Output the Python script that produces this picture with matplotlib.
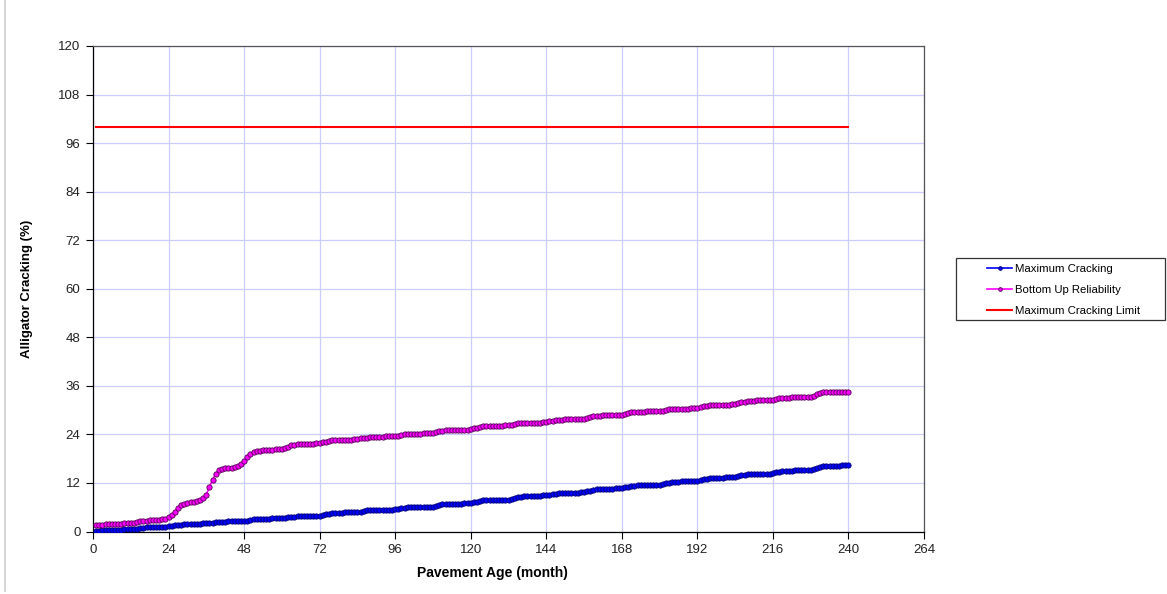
"""
Alligator cracking vs pavement age (MEPDG style output chart)
"""

import matplotlib
matplotlib.use("Agg")
import matplotlib.pyplot as plt
from matplotlib.lines import Line2D
from matplotlib.patches import Rectangle

plt.rcParams['font.family'] = ['Liberation Sans', 'DejaVu Sans']

# monthly values, one row per year (months 1..240)
max_cracking = [
    0.2, 0.2, 0.3, 0.3, 0.3, 0.4, 0.4, 0.4, 0.4, 0.5, 0.5, 0.5,
    0.6, 0.7, 0.8, 0.9, 1.0, 1.1, 1.1, 1.1, 1.2, 1.2, 1.2, 1.3,
    1.4, 1.5, 1.6, 1.7, 1.8, 1.8, 1.8, 1.9, 1.9, 1.9, 2.0, 2.0,
    2.1, 2.2, 2.3, 2.4, 2.4, 2.4, 2.5, 2.5, 2.5, 2.5, 2.6, 2.6,
    2.7, 2.9, 3.0, 3.1, 3.2, 3.2, 3.2, 3.2, 3.3, 3.3, 3.3, 3.3,
    3.4, 3.5, 3.6, 3.7, 3.8, 3.8, 3.8, 3.9, 3.9, 3.9, 3.9, 3.9,
    4.1, 4.3, 4.4, 4.5, 4.6, 4.6, 4.6, 4.7, 4.7, 4.7, 4.7, 4.8,
    4.9, 5.1, 5.2, 5.3, 5.3, 5.3, 5.4, 5.4, 5.4, 5.4, 5.4, 5.5,
    5.6, 5.8, 5.9, 6.0, 6.0, 6.0, 6.0, 6.0, 6.1, 6.1, 6.1, 6.1,
    6.3, 6.5, 6.7, 6.8, 6.8, 6.9, 6.9, 6.9, 6.9, 7.0, 7.0, 7.0,
    7.2, 7.4, 7.6, 7.7, 7.8, 7.8, 7.8, 7.8, 7.9, 7.9, 7.9, 7.9,
    8.1, 8.3, 8.5, 8.6, 8.7, 8.7, 8.8, 8.8, 8.8, 8.8, 8.9, 8.9,
    9.1, 9.2, 9.3, 9.4, 9.5, 9.5, 9.6, 9.6, 9.6, 9.6, 9.7, 9.7,
    9.9, 10.1, 10.3, 10.4, 10.5, 10.5, 10.6, 10.6, 10.6, 10.7, 10.7, 10.7,
    10.9, 11.1, 11.2, 11.3, 11.4, 11.4, 11.5, 11.5, 11.5, 11.6, 11.6, 11.6,
    11.8, 12.0, 12.1, 12.2, 12.3, 12.3, 12.4, 12.4, 12.5, 12.5, 12.5, 12.6,
    12.8, 12.9, 13.0, 13.1, 13.2, 13.2, 13.3, 13.3, 13.4, 13.4, 13.5, 13.5,
    13.7, 13.9, 14.0, 14.1, 14.2, 14.2, 14.2, 14.3, 14.3, 14.3, 14.3, 14.4,
    14.6, 14.8, 14.9, 15.0, 15.0, 15.0, 15.1, 15.1, 15.1, 15.1, 15.2, 15.2,
    15.5, 15.8, 16.0, 16.1, 16.2, 16.2, 16.3, 16.3, 16.3, 16.4, 16.4, 16.5,
]

bottom_up_reliability = [
    1.6, 1.7, 1.7, 1.8, 1.8, 1.9, 1.9, 1.9, 1.9, 2.0, 2.0, 2.0,
    2.1, 2.3, 2.5, 2.6, 2.7, 2.8, 2.8, 2.9, 2.9, 3.0, 3.2, 3.5,
    4.0, 4.9, 5.8, 6.5, 6.9, 7.1, 7.2, 7.4, 7.6, 7.9, 8.4, 9.1,
    11.0, 12.8, 14.3, 15.1, 15.4, 15.6, 15.7, 15.8, 16.0, 16.2, 16.7, 17.4,
    18.4, 19.2, 19.7, 19.9, 20.0, 20.1, 20.1, 20.2, 20.2, 20.3, 20.3, 20.4,
    20.7, 21.0, 21.3, 21.5, 21.6, 21.6, 21.7, 21.7, 21.7, 21.7, 21.8, 21.8,
    22.0, 22.2, 22.4, 22.5, 22.6, 22.6, 22.6, 22.7, 22.7, 22.7, 22.8, 22.8,
    23.0, 23.1, 23.2, 23.3, 23.4, 23.4, 23.4, 23.4, 23.5, 23.5, 23.5, 23.5,
    23.7, 23.9, 24.0, 24.1, 24.1, 24.2, 24.2, 24.2, 24.3, 24.3, 24.3, 24.4,
    24.6, 24.8, 24.9, 25.0, 25.1, 25.1, 25.1, 25.2, 25.2, 25.2, 25.2, 25.3,
    25.5, 25.7, 25.9, 26.0, 26.0, 26.0, 26.1, 26.1, 26.1, 26.1, 26.2, 26.2,
    26.4, 26.6, 26.7, 26.8, 26.8, 26.8, 26.9, 26.9, 26.9, 26.9, 27.0, 27.0,
    27.2, 27.4, 27.5, 27.6, 27.6, 27.7, 27.7, 27.7, 27.7, 27.8, 27.8, 27.8,
    28.1, 28.3, 28.5, 28.6, 28.6, 28.7, 28.7, 28.7, 28.8, 28.8, 28.8, 28.8,
    29.1, 29.3, 29.5, 29.6, 29.6, 29.6, 29.6, 29.7, 29.7, 29.7, 29.7, 29.7,
    29.9, 30.1, 30.2, 30.3, 30.3, 30.4, 30.4, 30.4, 30.4, 30.5, 30.5, 30.5,
    30.8, 31.0, 31.1, 31.2, 31.2, 31.3, 31.3, 31.3, 31.3, 31.3, 31.4, 31.4,
    31.7, 31.9, 32.1, 32.2, 32.3, 32.3, 32.4, 32.4, 32.4, 32.5, 32.5, 32.5,
    32.7, 32.9, 33.0, 33.1, 33.1, 33.2, 33.2, 33.2, 33.3, 33.3, 33.3, 33.3,
    33.6, 34.0, 34.3, 34.4, 34.4, 34.5, 34.5, 34.5, 34.6, 34.6, 34.6, 34.6,
]

months = list(range(1, len(max_cracking) + 1))

limit_months = [1, 240]
limit_values = [100, 100]

x_ticks = list(range(0, 265, 24))
y_ticks = list(range(0, 121, 12))

grid_color = '#CCCCFF'
W, H = 1167, 594

fig = plt.figure(figsize=(W / 100, H / 100), dpi=100)
ax = fig.add_axes([93 / W, 1 - 531.5 / H, (924 - 93) / W, (531.5 - 46) / H])

ax.plot(months, max_cracking, color='#0000FF', linewidth=1.2,
        marker='o', markersize=3.8, markerfacecolor='#0000FF',
        markeredgecolor='#000070', markeredgewidth=0.6,
        label='Maximum Cracking', zorder=3)
ax.plot(months, bottom_up_reliability, color='#FF00FF', linewidth=1.2,
        marker='o', markersize=3.8, markerfacecolor='#FF00FF',
        markeredgecolor='#500050', markeredgewidth=0.6,
        label='Bottom Up Reliability', zorder=3)
ax.plot(limit_months, limit_values, color='#FF0000', linewidth=1.5,
        label='Maximum Cracking Limit', zorder=3)

ax.set_xlim(0, 264)
ax.set_ylim(0, 120)
ax.set_xticks(x_ticks)
ax.set_yticks(y_ticks)
ax.grid(True, color=grid_color, linewidth=0.9)
ax.set_axisbelow(True)

for side in ['top', 'right']:
    ax.spines[side].set_color('#555555')
    ax.spines[side].set_linewidth(0.9)
for side in ['left', 'bottom']:
    ax.spines[side].set_color('black')
    ax.spines[side].set_linewidth(0.9)

ax.tick_params(axis='both', direction='out', length=5, width=0.8,
               labelsize=9.5, colors='black', labelcolor='#222222', pad=4)

ax.set_xlabel('Pavement Age (month)', fontsize=10, fontweight='bold')
ax.xaxis.set_label_coords((492 - 93) / 831, -0.072)
ax.set_ylabel('Alligator Cracking (%)', fontsize=9.5, fontweight='bold', labelpad=18)

# legend entries without a frame, the box is drawn separately
handles, labels = ax.get_legend_handles_labels()
leg = fig.legend(handles, labels, loc='upper left',
                 bbox_to_anchor=(987 / W, 1 - 264 / H),
                 fontsize=8.2, frameon=False, handlelength=2.2,
                 borderpad=0, borderaxespad=0, labelspacing=0.96,
                 handletextpad=0.25, markerscale=0.7)
fig.add_artist(Rectangle((956 / W, 1 - 320 / H), (1165 - 956) / W, 62 / H,
                         transform=fig.transFigure, fill=False,
                         edgecolor='#333333', linewidth=0.9))

# thin outer frame line on the left edge
fig.add_artist(Line2D([0.0045, 0.0045], [0.005, 1.0], color='#D0D0D0', linewidth=1.2))

fig.savefig('out.png', dpi=100)
